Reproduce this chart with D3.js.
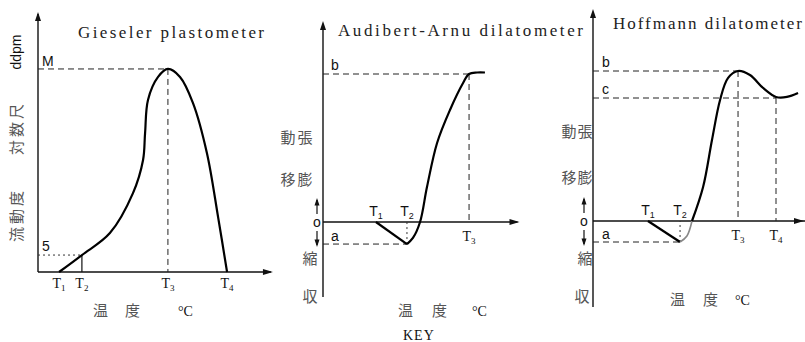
<!DOCTYPE html>
<html lang="ja">
<meta charset="utf-8" />
<style>
    body { margin: 0; background: #fff; }
    .axis { stroke: #111; stroke-width: 1.4px; fill: none; }
    .curve { stroke: #000; stroke-width: 2.2px; fill: none; stroke-linejoin: round; }
    .guide { stroke: #222; stroke-width: 1px; fill: none; stroke-dasharray: 6 4; }
    .dot { stroke: #333; stroke-width: 1px; fill: none; stroke-dasharray: 2 3; }
    .small { stroke: #111; stroke-width: 1.2px; fill: none; }
    .title { font-family: "Liberation Serif", serif; font-size: 17px; fill: #222; }
    .lab { font-family: "Liberation Sans", sans-serif; font-size: 14px; fill: #111; }
    .tl { font-family: "Liberation Serif", serif; font-size: 14px; fill: #111; }
    .jp { font-family: "Noto Sans CJK JP", sans-serif; font-size: 15px; fill: #555; }
</style>
<body>
<svg width="805" height="342"></svg>
<script src="https://d3js.org/d3.v7.min.js"></script>
<script>
// ---- data (arbitrary units) ----
// Gieseler plastometer: temperature 0-100, fluidity 0-100
var giesT = [9.4, 19.6, 32.1, 42.4, 46.9, 47.8, 49.1, 53.6, 58.0, 63.4, 69.2, 75.4, 80.4, 84.4]
var giesF = [0, 7.0, 16.1, 32.6, 46.3, 57.4, 71.1, 80.6, 83.9, 80.6, 69.8, 49.2, 22.7, 0]
var giesMarks = { T1: 9.4, T2: 19.6, T3: 58.0, T4: 84.4, M: 83.9, five: 7.0 }

// Audibert-Arnu dilatometer: dilatation, b = 100
var audT = [28.3, 44.9, 48.1, 51.9, 55.6, 61.0, 67.9, 74.9, 78.1, 82.4, 86.6]
var audD = [0, -14.9, -10.8, 0, 23.6, 53.4, 75.7, 93.9, 100, 101, 101]
var audMarks = { T1: 28.3, T2: 44.9, T3: 78.1, a: -14.9, b: 100 }

// Hoffmann dilatometer
var hofT = [27.2, 43.1, 46.5, 49.0, 54.5, 58.9, 62.9, 66.8, 71.8, 77.7, 84.2, 90.6, 96.0, 101.5]
var hofD = [0, -14, -10, 0, 22.7, 54, 80.7, 95.3, 100, 97.3, 88.7, 82.7, 82.7, 85.3]
var hofMarks = { T1: 27.2, T2: 43.1, T3: 71.8, T4: 90.6, a: -14, b: 100, c: 82 }

var titles = ["Gieseler plastometer", "Audibert-Arnu dilatometer", "Hoffmann dilatometer"]

var svg = d3.select("svg")

function arrowUp(x, y, s) {
    s = s || 3
    svg.append("path").attr("d", `M${x},${y} L${x - s},${y + s * 3} L${x + s},${y + s * 3} Z`).attr("fill", "#111")
}
function arrowDown(x, y, s) {
    svg.append("path").attr("d", `M${x},${y} L${x - s},${y - s * 3} L${x + s},${y - s * 3} Z`).attr("fill", "#111")
}
function arrowRight(x, y) {
    svg.append("path").attr("d", `M${x},${y} L${x - 10},${y - 3} L${x - 10},${y + 3} Z`).attr("fill", "#111")
}
function tLabel(x, y, n, cls) {
    var t = svg.append("text").attr("class", cls).attr("x", x).attr("y", y).attr("text-anchor", "middle")
    t.append("tspan").text("T")
    t.append("tspan").attr("font-size", 9).attr("dy", 3).text(n)
}
function line(x1, y1, x2, y2, cls) {
    svg.append("line").attr("x1", x1).attr("y1", y1).attr("x2", x2).attr("y2", y2).attr("class", cls)
}
function tempLabel(xs, y) {
    svg.append("text").attr("class", "jp").attr("x", xs[0]).attr("y", y).text("温")
    svg.append("text").attr("class", "jp").attr("x", xs[1]).attr("y", y).text("度")
    svg.append("text").attr("class", "tl").attr("font-size", 17).attr("x", xs[2]).attr("y", y).text("°C")
}
// the "↑ o ↓" marker beside a dilatometer axis
function zeroMark(x, y0) {
    svg.append("text").attr("class", "lab").attr("x", x).attr("y", y0 + 5).attr("text-anchor", "middle").text("o")
    line(x, y0 - 8, x, y0 - 22, "small")
    arrowUp(x, y0 - 24, 2.5)
    line(x, y0 + 9, x, y0 + 23, "small")
    arrowDown(x, y0 + 25, 2.5)
}

// ================= panel 1 =================
var x1 = d3.scaleLinear().domain([0, 100]).range([38, 262])
var y1 = d3.scaleLinear().domain([0, 100]).range([272, 30])

line(x1(0), y1(0), x1(0), 14, "axis")
arrowUp(x1(0), 12)
line(x1(0), y1(0), x1(104), y1(0), "axis")
arrowRight(x1(104) + 2, y1(0))

line(x1(0), y1(giesMarks.M), x1(giesMarks.T3), y1(giesMarks.M), "guide")
line(x1(giesMarks.T3), y1(giesMarks.M), x1(giesMarks.T3), y1(0), "guide")
line(x1(0), y1(giesMarks.five), x1(giesMarks.T2), y1(giesMarks.five), "dot")
svg.append("line").attr("x1", x1(giesMarks.T2)).attr("x2", x1(giesMarks.T2))
    .attr("y1", y1(giesMarks.five)).attr("y2", y1(0)).attr("stroke", "#111").attr("stroke-width", 1.2)

svg.append("path").datum(d3.zip(giesT, giesF)).attr("class", "curve")
    .attr("d", d3.line().x(d => x1(d[0])).y(d => y1(d[1])).curve(d3.curveCatmullRom))

svg.append("text").attr("class", "lab").attr("font-size", 16).attr("x", 42).attr("y", y1(giesMarks.M) - 3).text("M")
svg.append("text").attr("class", "lab").attr("font-size", 15).attr("x", 42).attr("y", y1(giesMarks.five) - 4).text("5")
tLabel(x1(giesMarks.T1), 288, "1", "tl")
tLabel(x1(giesMarks.T2), 288, "2", "tl")
tLabel(x1(giesMarks.T3), 288, "3", "tl")
tLabel(x1(giesMarks.T4), 288, "4", "tl")

svg.append("text").attr("class", "title").attr("x", 78).attr("y", 38)
    .attr("textLength", 186).attr("lengthAdjust", "spacing").text(titles[0])

var yl = svg.append("g").attr("transform", "translate(22,0) rotate(-90)")
yl.append("text").attr("class", "jp").attr("x", -215).attr("text-anchor", "middle").attr("letter-spacing", 3).text("流動度")
yl.append("text").attr("class", "jp").attr("x", -128).attr("text-anchor", "middle").attr("letter-spacing", 3).text("対数尺")
yl.append("text").attr("class", "lab").attr("font-size", 12).attr("x", -52).attr("y", -1).attr("text-anchor", "middle").text("ddpm")

tempLabel([93, 125, 178], 316)

// ================= panel 2 =================
var x2 = d3.scaleLinear().domain([0, 100]).range([323, 510])
var y2 = d3.scaleLinear().domain([0, 100]).range([222, 74])

line(x2(0), 297, x2(0), 24, "axis")
arrowUp(x2(0), 21)
line(x2(0), y2(0), x2(104), y2(0), "axis")
arrowRight(x2(104) + 2, y2(0))

line(x2(0), y2(audMarks.b), x2(audMarks.T3), y2(audMarks.b), "guide")
line(x2(audMarks.T3), y2(audMarks.b), x2(audMarks.T3), y2(0), "guide")
line(x2(0), y2(audMarks.a), x2(audMarks.T2), y2(audMarks.a), "guide")
line(x2(audMarks.T2), y2(audMarks.a), x2(audMarks.T2), y2(0), "dot")

svg.append("path").datum(d3.zip(audT.slice(0, 2), audD.slice(0, 2))).attr("class", "curve")
    .attr("d", d3.line().x(d => x2(d[0])).y(d => y2(d[1])))
svg.append("path").datum(d3.zip(audT.slice(1), audD.slice(1))).attr("class", "curve")
    .attr("d", d3.line().x(d => x2(d[0])).y(d => y2(d[1])).curve(d3.curveCatmullRom))

svg.append("text").attr("class", "lab").attr("x", 331).attr("y", y2(audMarks.b) - 4).text("b")
svg.append("text").attr("class", "lab").attr("x", 331).attr("y", y2(audMarks.a) - 3).text("a")
zeroMark(317, y2(0))
tLabel(x2(audMarks.T1), 216, "1", "lab")
tLabel(x2(audMarks.T2), 216, "2", "lab")
tLabel(x2(audMarks.T3), 241, "3", "tl")

svg.append("text").attr("class", "title").attr("x", 338).attr("y", 36)
    .attr("textLength", 245).attr("lengthAdjust", "spacing").text(titles[1])

var jp2 = [["動", 288, 143], ["移", 288, 185], ["張", 305, 143], ["膨", 305, 185], ["縮", 310, 264], ["収", 310, 302]]
jp2.forEach(d => svg.append("text").attr("class", "jp").attr("x", d[1]).attr("y", d[2]).attr("text-anchor", "middle").text(d[0]))

tempLabel([398, 432, 472], 316)
svg.append("text").attr("class", "tl").attr("font-size", 17).attr("x", 403).attr("y", 340).attr("letter-spacing", 1).text("KEY")

// ================= panel 3 =================
var x3 = d3.scaleLinear().domain([0, 100]).range([593, 795])
var y3 = d3.scaleLinear().domain([0, 100]).range([221, 71])

line(x3(0), 307, x3(0), 12, "axis")
arrowUp(x3(0), 9)
line(x3(0), y3(0), 805, y3(0), "axis")
arrowRight(804, y3(0))

line(x3(0), y3(hofMarks.b), x3(hofMarks.T3), y3(hofMarks.b), "guide")
line(x3(hofMarks.T3), y3(hofMarks.b), x3(hofMarks.T3), y3(0), "guide")
line(x3(0), y3(hofMarks.c), x3(hofMarks.T4), y3(hofMarks.c), "guide")
line(x3(hofMarks.T4), y3(hofMarks.c), x3(hofMarks.T4), y3(0), "guide")
line(x3(0), y3(hofMarks.a), x3(hofMarks.T2), y3(hofMarks.a), "guide")
line(x3(hofMarks.T2), y3(hofMarks.a), x3(hofMarks.T2), y3(0), "dot")

svg.append("path").datum(d3.zip(hofT.slice(0, 2), hofD.slice(0, 2))).attr("class", "curve")
    .attr("d", d3.line().x(d => x3(d[0])).y(d => y3(d[1])))
svg.append("path").datum(d3.zip(hofT.slice(1, 4), hofD.slice(1, 4))).attr("class", "curve")
    .style("stroke", "#888").style("stroke-width", "1.6px")
    .attr("d", d3.line().x(d => x3(d[0])).y(d => y3(d[1])).curve(d3.curveCatmullRom))
svg.append("path").datum(d3.zip(hofT.slice(3), hofD.slice(3))).attr("class", "curve")
    .attr("d", d3.line().x(d => x3(d[0])).y(d => y3(d[1])).curve(d3.curveCatmullRom))

svg.append("text").attr("class", "lab").attr("x", 602).attr("y", y3(hofMarks.b) - 4).text("b")
svg.append("text").attr("class", "lab").attr("x", 602).attr("y", y3(hofMarks.c) - 4).text("c")
svg.append("text").attr("class", "lab").attr("x", 602).attr("y", y3(hofMarks.a) - 3).text("a")
zeroMark(584, y3(0))
tLabel(x3(hofMarks.T1), 215, "1", "lab")
tLabel(x3(hofMarks.T2), 215, "2", "lab")
tLabel(x3(hofMarks.T3), 240, "3", "tl")
tLabel(x3(hofMarks.T4), 240, "4", "tl")

svg.append("text").attr("class", "title").attr("x", 613).attr("y", 29)
    .attr("textLength", 189).attr("lengthAdjust", "spacing").text(titles[2])

var jp3 = [["動", 569, 137], ["移", 569, 183], ["張", 585, 137], ["膨", 585, 183], ["縮", 585, 264], ["収", 582, 302]]
jp3.forEach(d => svg.append("text").attr("class", "jp").attr("x", d[1]).attr("y", d[2]).attr("text-anchor", "middle").text(d[0]))

tempLabel([670, 703, 735], 305)
</script>
</body>
</html>
